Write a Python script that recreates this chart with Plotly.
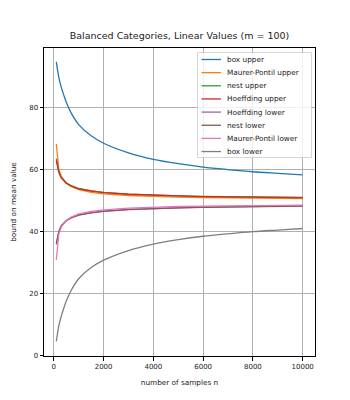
import plotly.graph_objects as go

# number of samples
n_samples = [100, 200, 300, 400, 500, 700, 1000, 1500, 2000, 3000, 4000,
             5000, 6000, 7000, 8000, 9000, 10000]

box_upper = [94.7, 89.7, 86.5, 84.0, 81.7, 78.2, 74.5, 70.9, 68.5, 65.4, 63.3,
             61.9, 60.8, 60.0, 59.3, 58.8, 58.3]
mp_upper = [68.3, 60.0, 57.8, 56.5, 55.6, 54.5, 53.5, 52.65, 52.2, 51.65, 51.35,
            51.1, 51.0, 50.9, 50.8, 50.7, 50.65]
nest_upper = [63.5, 59.3, 57.4, 56.4, 55.7, 54.8, 53.9, 53.15, 52.65, 52.1, 51.75,
              51.55, 51.35, 51.25, 51.15, 51.05, 51.0]
hoeff_upper = [63.0, 59.1, 57.3, 56.3, 55.6, 54.7, 53.8, 53.1, 52.6, 52.05, 51.7,
               51.5, 51.3, 51.2, 51.1, 51.0, 50.95]
hoeff_lower = [36.2, 40.1, 41.9, 42.9, 43.6, 44.5, 45.4, 46.1, 46.6, 47.15, 47.5,
               47.7, 47.9, 48.0, 48.1, 48.2, 48.3]
nest_lower = [35.9, 39.9, 41.8, 42.8, 43.5, 44.45, 45.35, 46.05, 46.55, 47.1, 47.45,
              47.65, 47.85, 47.95, 48.05, 48.15, 48.25]
mp_lower = [30.9, 39.2, 41.5, 42.7, 43.6, 44.7, 45.7, 46.55, 47.0, 47.55, 47.85,
            48.1, 48.2, 48.3, 48.4, 48.5, 48.55]
box_lower = [4.6, 9.6, 12.8, 15.3, 17.6, 21.1, 24.8, 28.4, 30.8, 33.9, 36.0,
             37.4, 38.5, 39.3, 40.0, 40.5, 41.0]

x_ticks = [0, 2000, 4000, 6000, 8000, 10000]
y_ticks = [0, 20, 40, 60, 80]

series = [
    ("box upper", box_upper, "#1f77b4"),
    ("Maurer-Pontil upper", mp_upper, "#ff7f0e"),
    ("nest upper", nest_upper, "#2ca02c"),
    ("Hoeffding upper", hoeff_upper, "#d62728"),
    ("Hoeffding lower", hoeff_lower, "#9467bd"),
    ("nest lower", nest_lower, "#8c564b"),
    ("Maurer-Pontil lower", mp_lower, "#e377c2"),
    ("box lower", box_lower, "#7f7f7f"),
]

# page has an 8px body margin, so the figure is shifted by that much
OFF = 8
W, H = 350 - OFF, 400 - OFF
# plot area in page pixels
L, R, T, B = 44, 315, 48, 356


def px(x):
    return (x - L) / (R - L)


def py(y):
    return (B - y) / (B - T)


fig = go.Figure()
for name, vals, color in series:
    smooth = name.startswith("box")
    fig.add_trace(go.Scatter(
        x=n_samples, y=vals, mode="lines", name=name,
        line=dict(color=color, width=1.3,
                  shape="spline" if smooth else "linear", smoothing=0.8),
        showlegend=False,
    ))

# legend drawn by hand (matplotlib-like compact spacing)
fig.add_shape(type="rect", xref="paper", yref="paper",
              x0=px(197.5), x1=px(311.5), y0=py(157.5), y1=py(52.5),
              fillcolor="rgba(255,255,255,0.8)", line=dict(color="#cccccc", width=0.8),
              layer="above")
for i, (name, vals, color) in enumerate(series):
    yc = 59.5 + i * 13.15
    fig.add_shape(type="line", xref="paper", yref="paper",
                  x0=px(201.5), x1=px(221), y0=py(yc), y1=py(yc),
                  line=dict(color=color, width=1.3), layer="above")
    fig.add_annotation(x=px(224.5), y=py(yc), xref="paper", yref="paper",
                       text=name, showarrow=False, xanchor="left", yanchor="middle",
                       font=dict(size=7.3, color="#222"))

axis_common = dict(
    showline=True, mirror=True, linecolor="black", linewidth=1,
    ticks="outside", ticklen=3.5, tickwidth=0.8, tickcolor="black",
    showgrid=True, gridcolor="#b0b0b0", gridwidth=0.8, zeroline=False,
    tickfont=dict(size=7, color="#222"), automargin=False,
)

fig.update_layout(
    width=W, height=H,
    margin=dict(l=L - OFF, r=W - (R - OFF), t=T - OFF, b=H - (B - OFF), autoexpand=False),
    paper_bgcolor="white", plot_bgcolor="white",
    font=dict(family="DejaVu Sans", color="#222"),
    showlegend=False,
    title=dict(text="Balanced Categories, Linear Values (m = 100)",
               x=px(179.5), xref="paper", xanchor="center",
               y=1 - (36 - OFF) / H, yref="container", yanchor="middle",
               font=dict(size=9.5, color="#222")),
    xaxis=dict(range=[-395, 10495], tickvals=x_ticks,
               ticktext=[str(v) for v in x_ticks],
               title=dict(text="number of samples n", font=dict(size=7.3), standoff=9),
               **axis_common),
    yaxis=dict(range=[-0.1, 99.2], tickvals=y_ticks,
               ticktext=[str(v) for v in y_ticks],
               title=dict(text="bound on mean value", font=dict(size=7.3), standoff=11),
               **axis_common),
)

fig.write_html("out.html")
